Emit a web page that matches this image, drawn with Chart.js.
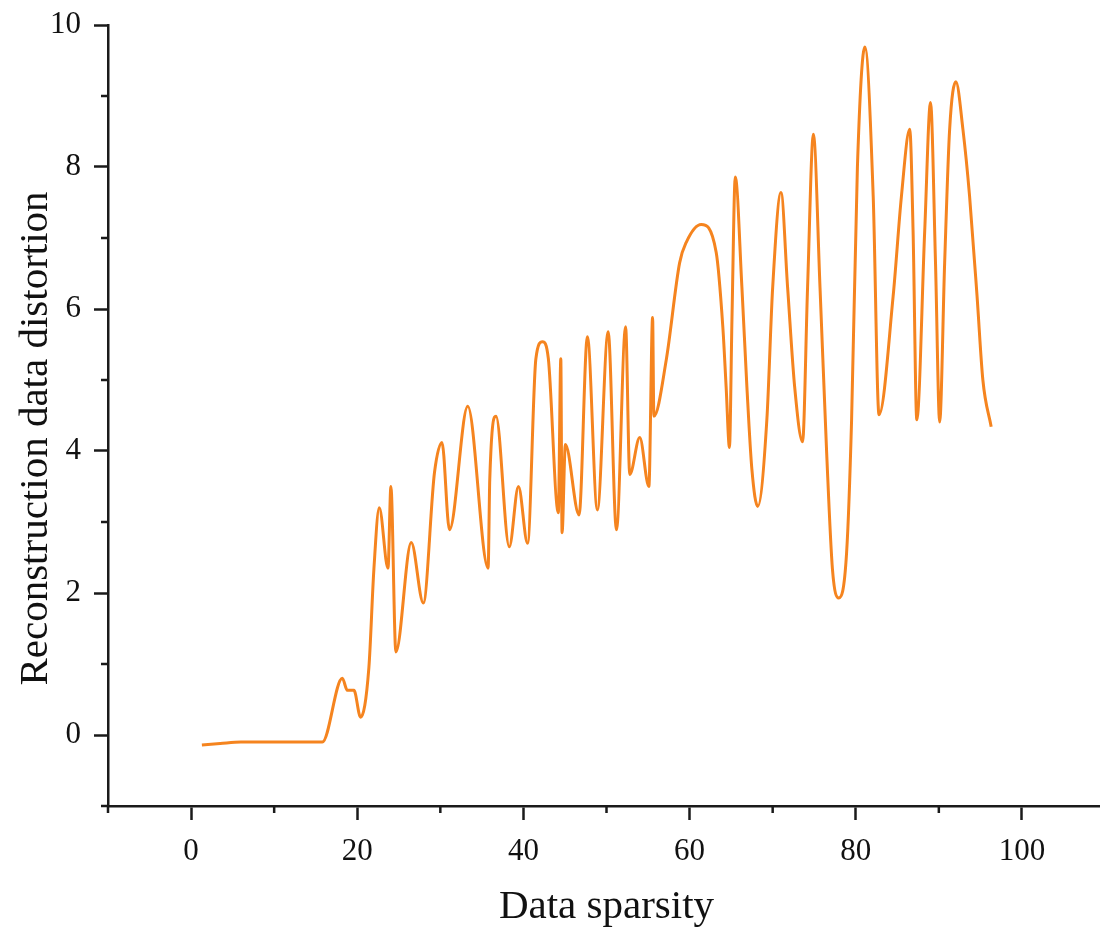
<!DOCTYPE html>
<html>
<head>
<meta charset="utf-8">
<title>Reconstruction data distortion vs data sparsity</title>
<script src="https://cdn.jsdelivr.net/npm/chart.js@4.4.1/dist/chart.umd.min.js"></script>
<style>
    html, body { margin: 0; padding: 0; background: #fff; overflow: hidden; }
    canvas { display: block; }
</style>
</head>
<body>
<canvas id="distortion_chart" width="1110" height="935"></canvas>
<script>
// values
const sparsity = [
    1.3, 3.5, 6.0, 15.8, 18.2, 18.8, 19.6, 20.4, 21.4, 22.0,
    22.65, 23.7, 24.05, 24.65, 26.5, 27.95, 29.3, 30.2, 31.1, 33.3,
    35.75, 35.95, 36.7, 38.3, 39.4, 40.5, 41.5, 42.3, 43.0, 44.2,
    44.5, 44.65, 45.05, 46.7, 47.7, 48.9, 50.2, 51.2, 52.3, 52.8,
    54.0, 55.1, 55.55, 55.7, 57.2, 58.8, 59.6, 61.4, 63.2, 64.0,
    64.4, 64.8, 65.1, 65.5, 66.3, 66.9, 67.5, 68.2, 69.3, 70.0,
    71.0, 71.8, 72.65, 73.6, 74.2, 74.9, 75.7, 76.5, 77.2, 77.95,
    78.9, 79.5, 80.2, 81.1, 82.1, 82.8, 84.5, 85.5, 86.5, 86.9,
    87.35, 88.3, 89.0, 89.6, 90.1, 90.7, 91.3, 92.05, 92.9, 93.7,
    94.6, 95.3, 96.3
];
const distortion = [
    -0.14, -0.12, -0.10, -0.10, 0.80, 0.63, 0.63, 0.25, 0.95, 2.33,
    3.20, 2.35, 3.50, 1.17, 2.71, 1.86, 3.70, 4.12, 2.89, 4.63,
    2.35, 3.60, 4.49, 2.65, 3.50, 2.70, 5.30, 5.54, 5.30, 3.13,
    5.30, 2.85, 4.09, 3.10, 5.61, 3.17, 5.68, 2.89, 5.75, 3.67,
    4.19, 3.50, 5.88, 4.49, 5.29, 6.65, 6.94, 7.19, 6.80, 5.75,
    4.90, 4.05, 5.85, 7.86, 6.30, 4.90, 3.74, 3.22, 4.44, 6.30,
    7.64, 6.30, 4.90, 4.13, 6.30, 8.46, 6.30, 3.97, 2.33, 1.93,
    2.57, 4.44, 8.00, 9.69, 7.59, 4.51, 6.18, 7.59, 8.53, 7.10,
    4.44, 7.10, 8.91, 6.65, 4.41, 6.65, 8.53, 9.20, 8.53, 7.59,
    6.18, 5.00, 4.34
];
const xTickLabels = [0, 20, 40, 60, 80, 100];
const yTickLabels = [0, 2, 4, 6, 8, 10];
const yTitle = 'Reconstruction data distortion';

const serif = "'Liberation Serif', 'Times New Roman', serif";
const axisColor = '#1a1a1a';

// minor ticks are shorter than the labelled ones, and the y title sits a bit low
const axisExtras = {
    id: 'axisExtras',
    afterDraw(chart) {
        const ctx = chart.ctx;
        ctx.save();
        ctx.strokeStyle = axisColor;
        ctx.lineWidth = 2.5;
        const xs = chart.scales.x;
        xs.ticks.forEach(t => {
            if (xTickLabels.includes(t.value)) return;
            const px = xs.getPixelForValue(t.value);
            ctx.beginPath();
            ctx.moveTo(px, xs.top);
            ctx.lineTo(px, xs.top + 7);
            ctx.stroke();
        });
        const ys = chart.scales.y;
        ys.ticks.forEach(t => {
            if (yTickLabels.includes(t.value)) return;
            const py = ys.getPixelForValue(t.value);
            ctx.beginPath();
            ctx.moveTo(ys.right, py);
            ctx.lineTo(ys.right - 7, py);
            ctx.stroke();
        });

        const area = chart.chartArea;
        ctx.translate(47, (area.top + area.bottom) / 2 + 23);
        ctx.rotate(-Math.PI / 2);
        ctx.fillStyle = '#111';
        ctx.font = "41px " + serif;
        ctx.textAlign = 'center';
        ctx.textBaseline = 'alphabetic';
        ctx.fillText(yTitle, 0, 0);
        ctx.restore();
    }
};

const points = sparsity.map((x, i) => ({ x: x, y: distortion[i] }));

new Chart(document.getElementById('distortion_chart'), {
    type: 'line',
    data: {
        datasets: [{
            data: points,
            borderColor: '#f5841f',
            borderWidth: 3,
            pointRadius: 0,
            cubicInterpolationMode: 'monotone',
            fill: false
        }]
    },
    options: {
        responsive: false,
        animation: false,
        layout: { padding: { top: 25, right: 5, left: 0, bottom: 0 } },
        plugins: { legend: { display: false }, tooltip: { enabled: false } },
        scales: {
            x: {
                type: 'linear',
                min: -10,
                max: 110,
                afterFit: s => {
                    s.height = 129;
                    s.paddingLeft = 0;
                    s.paddingRight = 0;
                },
                border: { color: axisColor, width: 2.5 },
                grid: {
                    drawOnChartArea: false,
                    tickLength: 14,
                    tickWidth: 2.5,
                    tickColor: c => xTickLabels.includes(c.tick.value) ? axisColor : 'rgba(0,0,0,0)'
                },
                ticks: {
                    stepSize: 10,
                    autoSkip: false,
                    maxRotation: 0,
                    padding: 13,
                    color: '#111',
                    font: { family: serif, size: 31 },
                    callback: v => xTickLabels.includes(v) ? String(v) : ''
                },
                title: {
                    display: true,
                    text: 'Data sparsity',
                    color: '#111',
                    font: { family: serif, size: 41 },
                    padding: { top: 0, bottom: 3 }
                }
            },
            y: {
                min: -1,
                max: 10,
                afterFit: s => {
                    s.width = 108;
                    s.paddingTop = 0;
                    s.paddingBottom = 0;
                },
                border: { color: axisColor, width: 2.5 },
                grid: {
                    drawOnChartArea: false,
                    tickLength: 14,
                    tickWidth: 2.5,
                    tickColor: c => yTickLabels.includes(c.tick.value) ? axisColor : 'rgba(0,0,0,0)'
                },
                ticks: {
                    stepSize: 1,
                    autoSkip: false,
                    padding: 13,
                    color: '#111',
                    font: { family: serif, size: 31 },
                    callback: v => yTickLabels.includes(v) ? String(v) : ''
                }
            }
        }
    },
    plugins: [axisExtras]
});
</script>
</body>
</html>
